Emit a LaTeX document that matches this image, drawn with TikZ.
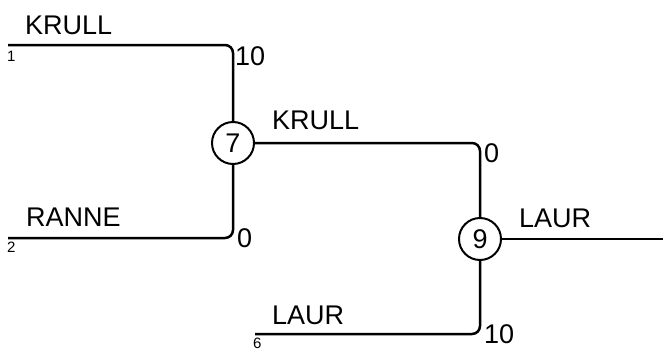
\documentclass[tikz,border=0pt]{standalone}
\usepackage{fontspec}
\setmainfont{Liberation Sans}
\begin{document}
\begin{tikzpicture}[x=1pt,y=-1pt,
  wire/.style={line width=2.5pt,rounded corners=8pt},
  game/.style={circle,draw,line width=2pt,minimum size=42pt,inner sep=0pt,font=\fontsize{27}{30}\selectfont},
  lbl/.style={anchor=base west,inner sep=0pt,font=\fontsize{27}{30}\selectfont},
  seed/.style={anchor=base west,inner sep=0pt,font=\fontsize{15}{17}\selectfont}]
\useasboundingbox (0,0) rectangle (663,351);
\node[game] (c7) at (233,143) {7};
\node[game] (c9) at (480,239) {9};
\coordinate (s1) at (8,45);
\coordinate (s2) at (8,238);
\coordinate (s6) at (255,334);
\coordinate (out) at (663,239);
\draw[wire] (s1) -| (c7.north);
\draw[wire] (s2) -| (c7.south);
\draw[wire] (c7.east) -| (c9.north);
\draw[wire] (s6) -| (c9.south);
\draw[wire] (c9.east) -- (out);
\node[lbl] (n1) at (25,34) {KRULL};
\node[lbl] (n2) at (26,226) {RANNE};
\node[lbl] (n3) at (272,129) {KRULL};
\node[lbl] (n4) at (519,227) {LAUR};
\node[lbl] (n5) at (272,324) {LAUR};
\node[lbl] (p1) at (235,65) {10};
\node[lbl] (p2) at (237,247) {0};
\node[lbl] (p3) at (484,162) {0};
\node[lbl] (p4) at (484,343) {10};
\node[seed] (d1) at (7,61) {1};
\node[seed] (d2) at (7,252) {2};
\node[seed] (d6) at (253,348) {6};
\end{tikzpicture}
\end{document}
